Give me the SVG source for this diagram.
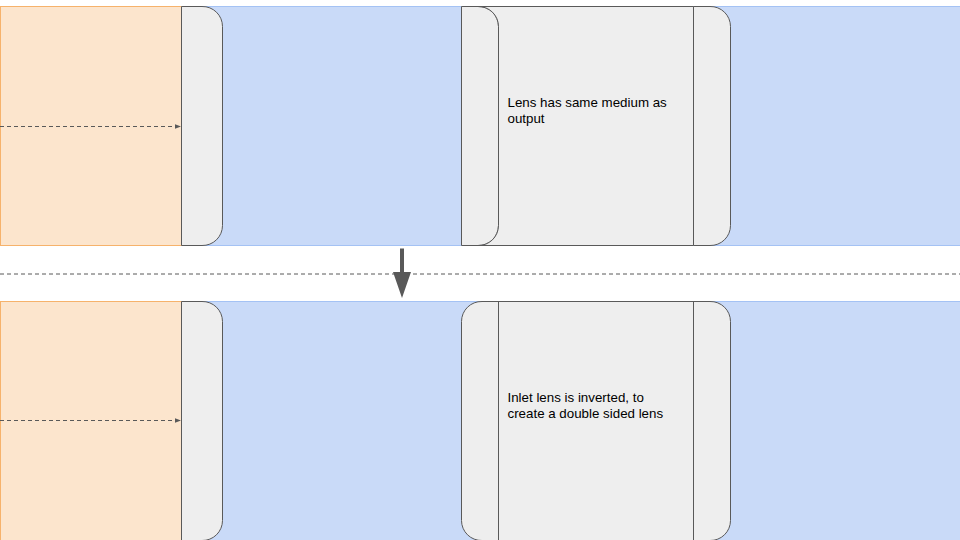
<svg xmlns="http://www.w3.org/2000/svg" width="960" height="540" viewBox="0 0 960 540">
<style>
.in{fill:#fce5cd;stroke:#f6b26b;stroke-width:1}
.out{fill:#c9daf8;stroke:#a4c2f4;stroke-width:1}
.lens{fill:#eeeeee;stroke:#595959;stroke-width:1}
.ray{fill:none;stroke:#595959;stroke-width:1;stroke-dasharray:4 3}
text{font-family:"Liberation Sans",Arial,sans-serif;font-size:13.33px;fill:#000}
</style>
<defs>
<marker id="tip" markerUnits="userSpaceOnUse" markerWidth="7" markerHeight="6" refX="6.5" refY="3" orient="auto"><path d="M0 .5L6.5 3L0 5.500Z" fill="#595959"/></marker>
</defs>
<rect width="960" height="540" fill="#fff"/>
<g id="output-top"><rect class="out" x="182" y="6.500" width="779" height="239"/></g>
<g id="input-top"><rect class="in" x="0.500" y="6.500" width="181" height="239"/></g>
<g id="lens-top-left"><path class="lens" d="M181.500 6.500H202A20 20 0 0 1 222.500 26.500V225.500A20 20 0 0 1 202 245.500H181.500Z"/></g>
<g id="lens-top-mid"><path class="lens" d="M461.500 6.500H478A20 20 0 0 1 498.500 26.500V225.500A20 20 0 0 1 478 245.500H461.500Z"/></g>
<g id="lens-top-body"><path class="lens" d="M478 6.500H693.500V245.500H478A20 20 0 0 0 498.500 225.500V26.500A20 20 0 0 0 478 6.500Z"/></g>
<g id="lens-top-right"><path class="lens" d="M693.500 6.500H710A20 20 0 0 1 730.500 26.500V225.500A20 20 0 0 1 710 245.500H693.500Z"/></g>
<g id="label-top"><text x="507.500" y="107">Lens has same medium as</text><text x="507.500" y="122.700">output</text></g>
<g id="output-bottom"><rect class="out" x="182" y="301.500" width="779" height="239"/></g>
<g id="input-bottom"><rect class="in" x="0.500" y="301.500" width="181" height="239"/></g>
<g id="lens-bottom-left"><path class="lens" d="M181.500 301.500H202A20 20 0 0 1 222.500 321.500V520.500A20 20 0 0 1 202 540.500H181.500Z"/></g>
<g id="lens-bottom-body"><path class="lens" d="M482 301.500H710A20 20 0 0 1 730.500 321.500V520.500A20 20 0 0 1 710 540.500H482A20 20 0 0 1 461.500 520.500V321.500A20 20 0 0 1 482 301.500Z"/><path class="lens" d="M498.500 301.500V540.500M693.500 301.500V540.500"/></g>
<g id="label-bottom"><text x="507.500" y="402">Inlet lens is inverted, to</text><text x="507.500" y="417.700">create a double sided lens</text></g>
<g id="connectors">
<path class="ray" d="M0 126.500H181" marker-end="url(#tip)"/>
<path class="ray" d="M0 420.500H181" marker-end="url(#tip)"/>
<path class="ray" d="M0 274H960"/>
<path d="M400 248.500H404V272H411L402 298L393 272H400Z" fill="#595959"/>
</g>
</svg>
